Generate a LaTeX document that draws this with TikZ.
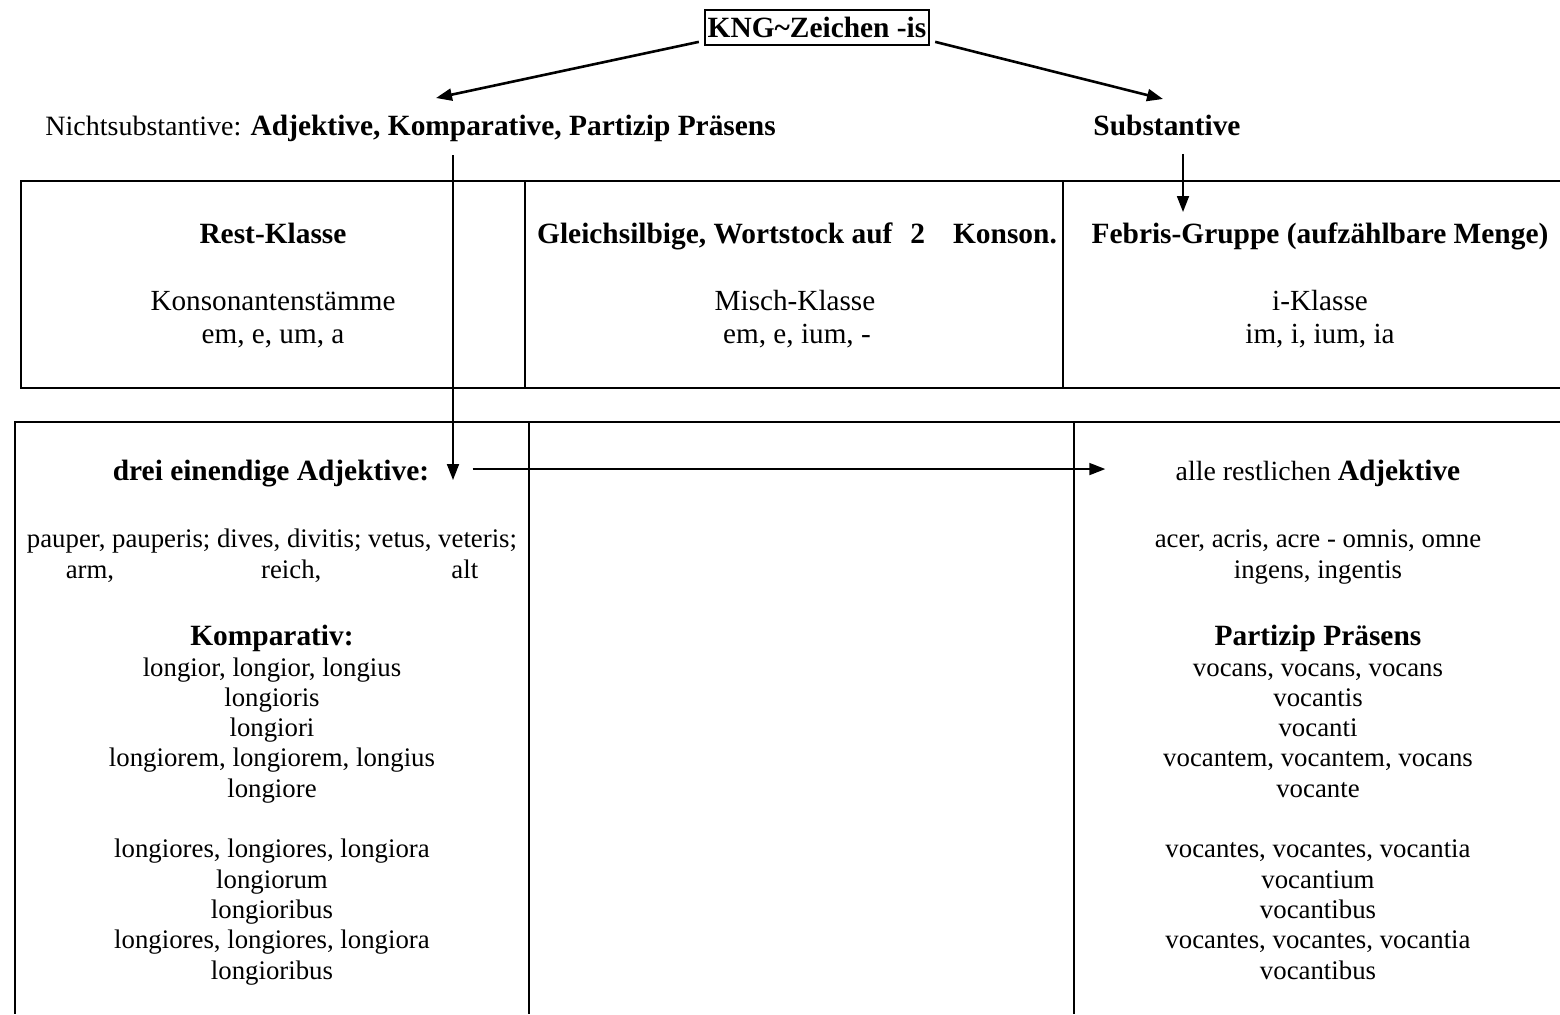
\documentclass[tikz,border=0pt]{standalone}
\usepackage{fontspec}
\setmainfont{Liberation Serif}
\usetikzlibrary{arrows.meta}

\tikzset{
  cell/.style={font=\fontsize{13.4}{15.15}\selectfont, align=center, inner sep=0pt, anchor=base},
  celltop/.style={cell, font=\fontsize{14.6}{16.5}\selectfont},
  cellb/.style={cell, font=\fontsize{14.7}{15.15}\selectfont\bfseries},
  arr/.style={-{Triangle[length=8pt,width=6pt]}, line width=0.9pt},
  rule/.style={line width=0.8pt}
}
\newcommand{\bigb}[1]{{\fontsize{14.7}{15.15}\selectfont\bfseries #1}}

\begin{document}
\begin{tikzpicture}[x=0.5pt,y=-0.5pt]
 \useasboundingbox (0,0) rectangle (1560,1014);
 % top: sign and the two groups
 \node[cellb, draw, line width=0.85pt, inner xsep=1.5pt, inner ysep=0pt, text height=13.5pt, text depth=4pt] (kng) at (817,37) {KNG\textasciitilde Zeichen -is};
 \node[cell, font=\fontsize{14}{15.15}\selectfont, anchor=base west] (nicht) at (45,135) {Nichtsubstantive: \bigb{Adjektive, Komparative, Partizip Präsens}};
 \node[cellb] (subst) at (1167,135) {Substantive};
 \coordinate (adjTip) at (436,98);
 \coordinate (substTip) at (1163,99);
 \coordinate (kompFrom) at (453,155);
 \coordinate (febTip) at (1183,212);
 \draw[arr, line width=1.3pt] ([xshift=-2.5pt,yshift=2pt]kng.south west) -- (adjTip);
 \draw[arr, line width=1.3pt] ([xshift=2.5pt,yshift=2pt]kng.south east) -- (substTip);

 % top table
 \draw[rule] (1560,181) -- (21,181) -- (21,388) -- (1560,388);
 \draw[rule] (525,181) -- (525,388);
 \draw[rule] (1063,181) -- (1063,388);
 \node[cellb] (rest) at (273,243) {Rest-Klasse};
 \node[celltop] (restA) at (273,310) {Konsonantenstämme};
 \node[celltop] (restB) at (273,343) {em, e, um, a};
 \node[cellb] (gleich) at (797,243) {Gleichsilbige, Wortstock auf\hspace{9pt}2\hspace{14pt}Konson.};
 \node[celltop] (mischA) at (795,310) {Misch-Klasse};
 \node[celltop] (mischB) at (797,343) {em, e, ium, -};
 \node[cellb] (febris) at (1320,243) {Febris-Gruppe (aufzählbare Menge)};
 \node[celltop] (iA) at (1320,310) {i-Klasse};
 \node[celltop] (iB) at (1320,343) {im, i, ium, ia};

 % bottom table
 \draw[rule] (1560,422) -- (15,422) -- (15,1014);
 \draw[rule] (529,422) -- (529,1014);
 \draw[rule] (1074,422) -- (1074,1014);
 \node[cellb] (drei) at (271,480) {drei einendige Adjektive:};
 \node[cell] (drei1) at (272,578) {pauper, pauperis; dives, divitis; vetus, veteris;\\arm,\hspace{73.5pt}reich,\hspace{65pt}alt};
 \node[cell] (komp) at (272,979) {\bigb{Komparativ:}\\longior, longior, longius\\longioris\\longiori\\longiorem, longiorem, longius\\longiore\\[15.15pt]longiores, longiores, longiora\\longiorum\\longioribus\\longiores, longiores, longiora\\longioribus};
 \node[cell, font=\fontsize{13.9}{15.15}\selectfont] (alle) at (1318,480) {alle restlichen \bigb{Adjektive}};
 \node[cell] (alle1) at (1318,578) {acer, acris, acre - omnis, omne\\ingens, ingentis};
 \node[cell] (part) at (1318,979) {\bigb{Partizip Präsens}\\vocans, vocans, vocans\\vocantis\\vocanti\\vocantem, vocantem, vocans\\vocante\\[15.15pt]vocantes, vocantes, vocantia\\vocantium\\vocantibus\\vocantes, vocantes, vocantia\\vocantibus};

 % arrows into the tables
 \draw[arr] (kompFrom) -- (kompFrom |- drei.base);
 \draw[arr, shorten <=21.5pt, shorten >=35pt] ([yshift=2pt]drei.east) -- ([yshift=2pt]drei.east -| alle.west);
 \draw[arr] ([xshift=8pt,yshift=-9pt]subst.south) -- (febTip);
\end{tikzpicture}
\end{document}
